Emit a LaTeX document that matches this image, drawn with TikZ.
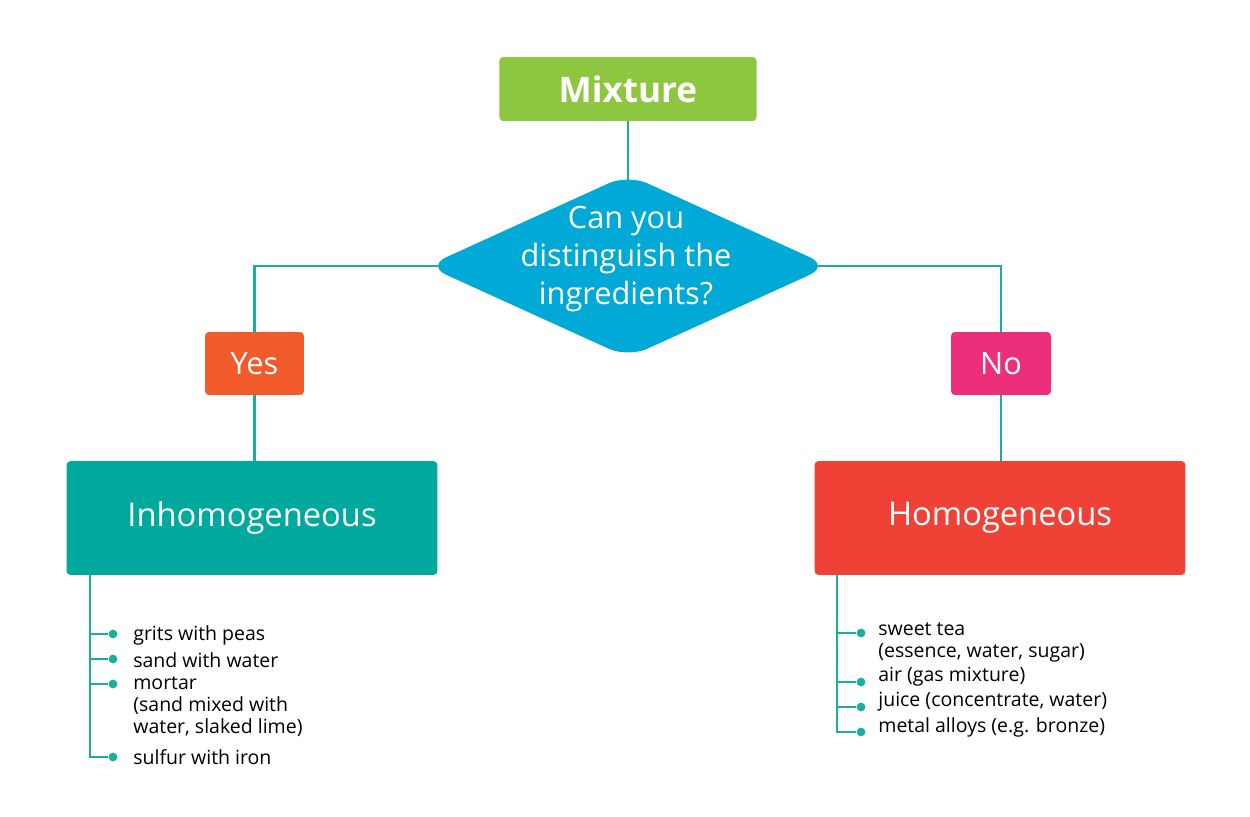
\documentclass[tikz,border=0pt]{standalone}
\usepackage{fontspec}
\setmainfont{Open Sans}
\usetikzlibrary{shapes.geometric,backgrounds}
\definecolor{cgreen}{HTML}{8DC63F}
\definecolor{cblue}{HTML}{00A9D6}
\definecolor{corange}{HTML}{F15A29}
\definecolor{cpink}{HTML}{EC2F7B}
\definecolor{cteal}{HTML}{00A99D}
\definecolor{cred}{HTML}{EF4136}
\definecolor{cline}{HTML}{1AAE9F}
\begin{document}
\begin{tikzpicture}[x=0.02cm,y=-0.02cm,
  box/.style={rectangle,rounded corners=2pt,inner sep=0pt,text=white},
  conn/.style={draw=cline,line width=1.3pt},
  dot/.style={circle,fill=cline,inner sep=0pt,minimum size=5pt},
  item/.style={anchor=west,font=\fontsize{11.1}{12.5}\selectfont,align=left,inner sep=0pt}]
\useasboundingbox (0,0) rectangle (1250,816);
\node[box,fill=cgreen,minimum width=258*0.567pt,minimum height=64*0.567pt,font=\fontsize{20}{22}\selectfont\bfseries] (mix) at (628,89) {Mixture};
\node[diamond,fill=cblue,text=white,rounded corners=12pt,minimum width=404*0.567pt,minimum height=184*0.567pt,inner sep=0pt,aspect=2.2] (q) at (628,266) {};
\node[text=white,align=center,font=\fontsize{17.5}{21.5}\selectfont] at (626,259) {Can you\\distinguish the\\ingredients?};
\node[box,fill=corange,minimum width=99*0.567pt,minimum height=63*0.567pt,font=\fontsize{17.5}{20}\selectfont] (yes) at (254.5,363.5) {Yes};
\node[box,fill=cpink,minimum width=100*0.567pt,minimum height=63*0.567pt,font=\fontsize{17.5}{20}\selectfont] (no) at (1001,363.5) {No};
\node[box,fill=cteal,minimum width=372*0.567pt,minimum height=114*0.567pt,font=\fontsize{18.6}{21}\selectfont] (inh) at (252,518) {Inhomogeneous};
\node[box,fill=cred,minimum width=372*0.567pt,minimum height=114*0.567pt,font=\fontsize{18.6}{21}\selectfont] (hom) at (1000,518) {Homogeneous};
\begin{scope}[on background layer]
\draw[conn] (mix.south) -- (q.center);
\draw[conn] (q.center) -| (yes.north);
\draw[conn] (q.center) -| (no.north);
\draw[conn] (yes.south) -- (yes.south|-inh.north);
\draw[conn] (no.south) -- (no.south|-hom.north);
\end{scope}
% left list
\coordinate (lt) at (90,575);
\node[dot] (l1) at (113,634) {};
\node[dot] (l2) at (113,659) {};
\node[dot] (l3) at (113,684) {};
\node[dot] (l4) at (113,757) {};
\draw[conn] (lt) |- (l4);
\foreach \i in {1,2,3} \draw[conn] (90,0|-l\i) -- (l\i);
\node[item] at (133,635) {grits with peas};
\node[item] at (133,660) {sand with water};
\node[item,anchor=north west] at (133,676) {mortar\\(sand mixed with\\water, slaked lime)};
\node[item] at (133,757) {sulfur with iron};
% right list
\coordinate (rt) at (837,575);
\node[dot] (r1) at (861,633) {};
\node[dot] (r2) at (861,682) {};
\node[dot] (r3) at (861,707) {};
\node[dot] (r4) at (861,732) {};
\draw[conn] (rt) |- (r4);
\foreach \i in {1,2,3} \draw[conn] (837,0|-r\i) -- (r\i);
\node[item,anchor=north west] at (878,622) {sweet tea\\(essence, water, sugar)};
\node[item] at (878,677) {air (gas mixture)};
\node[item] at (878,702) {juice (concentrate, water)};
\node[item] at (878,727) {metal alloys (e.g. bronze)};
\end{tikzpicture}
\end{document}
